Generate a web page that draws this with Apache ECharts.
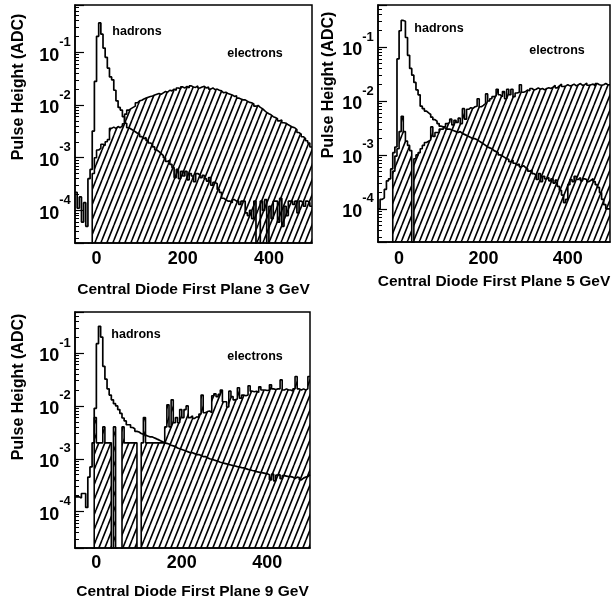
<!DOCTYPE html>
<html>
<head>
<meta charset="utf-8">
<script src="https://cdn.jsdelivr.net/npm/echarts@6/dist/echarts.min.js"></script>
<style>
  html, body { margin: 0; padding: 0; background: #fff; }
  #main { width: 613px; height: 605px; }
</style>
</head>
<body>
<div id="main"></div>
<script>
// histogram binning (ADC): 5 wide, from -50 to 500
var binStart = -50, binWidth = 5;
var xTicks = [0, 200, 400];
var yDecades = [-4, -3, -2, -1];
var titles = ['Central Diode First Plane 3 GeV', 'Central Diode First Plane 5 GeV', 'Central Diode First Plane 9 GeV'];

// 3 GeV
var had3 = [
  2.2e-4, 1.1e-4, 1.8e-4, 6e-5, 1.4e-4, 5e-5, 4e-4, 6e-4, 3.2e-3, 0.028,
  0.2, 0.36, 0.22, 0.12, 0.08, 0.05, 0.034, 0.03, 0.019, 0.012,
  9e-3, 8e-3, 6e-3, 4.5e-3, 3.7e-3, 3.5e-3, 3.3e-3, 3.1e-3, 2.9e-3, 2.8e-3,
  2.5e-3, 2.3e-3, 2.4e-3, 2.1e-3, 1.9e-3, 1.8e-3, 1.6e-3, 1.4e-3, 1.3e-3, 1.2e-3,
  1.1e-3, 1e-3, 8.5e-4, 9e-4, 7.5e-4, 6.5e-4, 4.2e-4, 6e-4, 4e-4, 5.5e-4,
  4.5e-4, 5.5e-4, 3.8e-4, 5e-4, 4.5e-4, 3.5e-4, 5e-4, 4.7e-4, 4.2e-4, 4.6e-4,
  4e-4, 3.6e-4, 4.2e-4, 3e-4, 3.4e-4, 3.2e-4, 2.5e-4, 2.2e-4, 1.7e-4, 1.6e-4,
  1.5e-4, 1.5e-4, 1.4e-4, 1.6e-4, 1.5e-4, 1.5e-4, 1.3e-4, 1.5e-4, 1.5e-4, 9e-5,
  8e-5, 1e-4, 7e-5, 1.5e-4, 0, 0, 1.5e-4, 1e-4, 1.6e-4, 0,
  1.2e-4, 7e-5, 1.5e-4, 1.5e-4, 6e-5, 1.7e-4, 5e-5, 1.2e-4, 8e-5, 1.5e-4,
  1.5e-4, 1.3e-4, 1.5e-4, 9e-5, 1.5e-4, 1.4e-4, 1.2e-4, 1.5e-4, 1.4e-4, 1.2e-4
];
var ele3 = [
  0, 0, 0, 0, 0, 0, 0, 0, 5e-4, 1e-3,
  1.4e-3, 1.5e-3, 1.8e-3, 1.7e-3, 2e-3, 2.2e-3, 3.6e-3, 3.8e-3, 3.6e-3, 3.9e-3,
  3.7e-3, 4e-3, 4.4e-3, 6.7e-3, 8e-3, 8.5e-3, 9e-3, 9.5e-3, 0.011, 0.012,
  0.0123, 0.013, 0.0135, 0.014, 0.0145, 0.0148, 0.0155, 0.016, 0.0165, 0.016,
  0.017, 0.018, 0.0175, 0.019, 0.0185, 0.02, 0.019, 0.021, 0.02, 0.022,
  0.021, 0.0225, 0.021, 0.023, 0.022, 0.0215, 0.023, 0.021, 0.022, 0.0225,
  0.021, 0.022, 0.02, 0.021, 0.0195, 0.02, 0.019, 0.0185, 0.017, 0.0175,
  0.0165, 0.016, 0.0155, 0.0145, 0.015, 0.0135, 0.013, 0.0125, 0.0125, 0.0118,
  0.0112, 0.011, 0.0105, 0.0095, 0.0098, 0.009, 0.0085, 0.0078, 0.0072, 0.0068,
  0.0065, 0.006, 0.0058, 0.0055, 0.005, 0.0052, 0.0046, 0.0045, 0.0042, 0.004,
  0.0038, 0.0037, 0.0034, 0.003, 0.0028, 0.0025, 0.0023, 0.0021, 0.0019, 0.0016
];

// 5 GeV
var had5 = [
  1e-4, 1.5e-4, 1.6e-4, 2.3e-4, 3.3e-4, 3.6e-4, 5.5e-4, 1.1e-3, 1.4e-3, 0.06,
  0.2, 0.31, 0.3, 0.15, 0.07, 0.04, 0.03, 0.022, 0.016, 0.013,
  8e-3, 7.2e-3, 6.5e-3, 6e-3, 5.6e-3, 5e-3, 4.5e-3, 4.2e-3, 3.8e-3, 3.4e-3,
  3.3e-3, 3.1e-3, 3e-3, 3e-3, 2.9e-3, 2.8e-3, 2.7e-3, 2.6e-3, 2.7e-3, 2.5e-3,
  2.4e-3, 2.3e-3, 2.2e-3, 2.1e-3, 2e-3, 2e-3, 1.9e-3, 1.8e-3, 1.7e-3, 1.6e-3,
  1.5e-3, 1.4e-3, 1.35e-3, 1.3e-3, 1.2e-3, 1.15e-3, 1.1e-3, 1e-3, 9.5e-4, 9e-4,
  8.5e-4, 8.3e-4, 7.5e-4, 8e-4, 7e-4, 6.5e-4, 6.8e-4, 6e-4, 6.3e-4, 5.8e-4,
  5.5e-4, 5e-4, 5.2e-4, 4.5e-4, 4.2e-4, 3.5e-4, 4.5e-4, 3.2e-4, 4e-4, 3.6e-4,
  3.8e-4, 3.3e-4, 3.6e-4, 3e-4, 3.4e-4, 2.6e-4, 2.2e-4, 1.8e-4, 1.3e-4, 1.5e-4,
  2.8e-4, 3.5e-4, 3.2e-4, 4e-4, 3.5e-4, 3.8e-4, 3.3e-4, 3.6e-4, 3.5e-4, 3.2e-4,
  3.4e-4, 3.6e-4, 3.2e-4, 2.8e-4, 2.5e-4, 2e-4, 1.5e-4, 1.2e-4, 1e-4, 1e-4
];
var ele5 = [
  0, 0, 0, 0, 0, 0, 0, 5e-4, 9.5e-4, 1.3e-3,
  2.7e-3, 5.2e-3, 2.7e-3, 1.8e-3, 1.5e-3, 1.2e-3, 0, 8.5e-4, 1e-3, 1.1e-3,
  1.3e-3, 1.5e-3, 1.7e-3, 1.8e-3, 1.9e-3, 3.3e-3, 2.2e-3, 2.6e-3, 2.6e-3, 3e-3,
  3e-3, 3.3e-3, 3.8e-3, 4e-3, 4.6e-3, 3.6e-3, 4.4e-3, 4e-3, 4.8e-3, 3.8e-3,
  7.2e-3, 4.6e-3, 7e-3, 7.5e-3, 7.3e-3, 7.8e-3, 8e-3, 0.011, 7.8e-3, 8.3e-3,
  0.009, 0.0135, 0.01, 0.011, 0.012, 0.0125, 0.0165, 0.013, 0.012, 0.015,
  0.011, 0.0165, 0.013, 0.0165, 0.012, 0.014, 0.0145, 0.02, 0.0145, 0.015,
  0.016, 0.0155, 0.017, 0.016, 0.0165, 0.0175, 0.0165, 0.017, 0.016, 0.017,
  0.0175, 0.017, 0.018, 0.0195, 0.0175, 0.019, 0.0205, 0.0185, 0.019, 0.02,
  0.019, 0.0195, 0.0205, 0.019, 0.02, 0.021, 0.0195, 0.02, 0.0215, 0.0195,
  0.02, 0.0205, 0.019, 0.021, 0.02, 0.0195, 0.02, 0.021, 0.02, 0.02
];

// 9 GeV
var had9 = [
  1.9e-4, 1.9e-4, 1.8e-4, 2.2e-4, 2.2e-4, 1.2e-4, 4.5e-4, 7e-4, 2e-3, 9e-3,
  0.15, 0.32, 0.2, 0.056, 0.032, 0.021, 0.016, 0.013, 0.011, 0.01,
  8.5e-3, 7.2e-3, 5.9e-3, 5.2e-3, 4.4e-3, 4.4e-3, 3.9e-3, 3.7e-3, 3.3e-3, 3.2e-3,
  3e-3, 2.9e-3, 2.8e-3, 2.7e-3, 2.6e-3, 2.6e-3, 2.5e-3, 2.4e-3, 2.3e-3, 2.2e-3,
  2.1e-3, 2e-3, 1.95e-3, 1.9e-3, 1.8e-3, 1.75e-3, 1.7e-3, 1.6e-3, 1.55e-3, 1.5e-3,
  1.45e-3, 1.4e-3, 1.35e-3, 1.3e-3, 1.3e-3, 1.25e-3, 1.2e-3, 1.2e-3, 1.15e-3, 1.1e-3,
  1.1e-3, 1.05e-3, 1e-3, 9.8e-4, 9.5e-4, 9.2e-4, 9e-4, 8.6e-4, 8.4e-4, 8.2e-4,
  8e-4, 7.8e-4, 7.6e-4, 7.4e-4, 7.3e-4, 7.1e-4, 7e-4, 6.8e-4, 6.7e-4, 6.5e-4,
  6.3e-4, 6.2e-4, 6e-4, 5.9e-4, 5.7e-4, 5.6e-4, 5.5e-4, 5.4e-4, 5.3e-4, 5.2e-4,
  5e-4, 4e-4, 5.1e-4, 3.8e-4, 4.9e-4, 5e-4, 4.2e-4, 4.8e-4, 4.7e-4, 4.6e-4,
  4.6e-4, 4.5e-4, 4.2e-4, 4.5e-4, 4.4e-4, 4e-4, 4.3e-4, 4.5e-4, 4.6e-4, 5e-4
];
var ele9 = [
  0, 0, 0, 0, 0, 0, 0, 0, 0, 6e-3,
  2e-3, 2e-3, 2e-3, 4e-3, 2e-3, 2e-3, 2e-3, 0, 4e-3, 0,
  0, 0, 4e-3, 2e-3, 2e-3, 2e-3, 2e-3, 2e-3, 2e-3, 0,
  0, 2e-3, 6e-3, 2e-3, 2e-3, 2e-3, 2e-3, 2e-3, 2e-3, 2e-3,
  2e-3, 2e-3, 4e-3, 0.0105, 4e-3, 0.013, 4.8e-3, 6e-3, 4.8e-3, 8.5e-3,
  6e-3, 8.5e-3, 0.01, 6e-3, 6.5e-3, 5.8e-3, 6.2e-3, 6e-3, 7e-3, 0.016,
  7.4e-3, 7.8e-3, 8e-3, 7.5e-3, 0.0155, 0.017, 0.015, 0.0165, 0.02, 0.012,
  0.012, 0.0095, 0.019, 0.015, 0.013, 0.0135, 0.022, 0.014, 0.016, 0.0155,
  0.016, 0.024, 0.019, 0.0185, 0.019, 0.018, 0.023, 0.02, 0.02, 0.0195,
  0.02, 0.025, 0.021, 0.0205, 0.021, 0.021, 0.031, 0.02, 0.021, 0.02,
  0.02, 0.019, 0.021, 0.036, 0.021, 0.02, 0.021, 0.02, 0.021, 0.036
];

var FONT = '"Liberation Sans", Arial, sans-serif';
var FLOOR = 1e-7; // empty bins drop below the axis

var panels = [
  { had: had3, ele: ele3, title: titles[0], left: 75, top: 5, width: 237, height: 238, yMin: 2.41e-5, yMax: 0.787,
    labMargin: 7, nameGap: 39, yTitle: [19, 87], hadTxt: [137, 32], eleTxt: [255, 53.5] },
  { had: had5, ele: ele5, title: titles[1], left: 378, top: 5, width: 240, height: 237, yMin: 2.43e-5, yMax: 0.6,
    labMargin: 8, nameGap: 32, yTitle: [329, 85], hadTxt: [439, 29], eleTxt: [557, 51] },
  { had: had9, ele: ele9, title: titles[2], left: 75, top: 312, width: 235, height: 236, yMin: 2.05e-5, yMax: 0.597,
    labMargin: 6, nameGap: 36, yTitle: [19, 387], hadTxt: [136, 335], eleTxt: [255, 357] }
];

function hatchPattern() {
  var c = document.createElement('canvas');
  c.width = 6; c.height = 15;
  var g = c.getContext('2d');
  g.strokeStyle = '#000';
  g.lineWidth = 1.6;
  g.beginPath();
  [-6, 0, 6].forEach(function (dx) { g.moveTo(dx, 15); g.lineTo(dx + 6, 0); });
  g.stroke();
  return c;
}
var hatch = hatchPattern();

function steps(vals) {
  var pts = [];
  for (var i = 0; i < vals.length; i++) {
    pts.push([binStart + i * binWidth, vals[i] > 0 ? vals[i] : FLOOR]);
  }
  pts.push([binStart + vals.length * binWidth, pts[pts.length - 1][1]]);
  return pts;
}

function logLabel(v) {
  var e = Math.log10(v), r = Math.round(e);
  if (Math.abs(e - r) > 1e-6 || yDecades.indexOf(r) < 0) return '';
  return '{b|10}{s|' + r + '}{h| }';
}

var grids = [], xAxes = [], yAxes = [], series = [], graphic = [];
panels.forEach(function (p, k) {
  grids.push({ left: p.left, top: p.top, width: p.width, height: p.height,
    show: true, borderColor: '#000', borderWidth: 1.5, backgroundColor: 'transparent' });
  xAxes.push({
    gridIndex: k, type: 'value', min: -50, max: 500, interval: 50,
    axisLine: { show: true, onZero: false, lineStyle: { color: '#000', width: 1.5 } },
    axisTick: { show: false }, splitLine: { show: false },
    axisLabel: {
      formatter: function (v) { return xTicks.indexOf(v) >= 0 ? String(v) : ''; },
      margin: p.labMargin, color: '#000', fontSize: 18, fontWeight: 'bold', fontFamily: FONT
    },
    name: p.title, nameLocation: 'middle', nameGap: p.nameGap,
    nameTextStyle: { color: '#000', fontSize: 15.5, fontWeight: 'bold', fontFamily: FONT }
  });
  yAxes.push({
    gridIndex: k, type: 'log', logBase: 10, min: p.yMin, max: p.yMax,
    axisLine: { show: true, onZero: false, lineStyle: { color: '#000', width: 1.5 } },
    axisTick: { show: true, inside: true, length: 9, lineStyle: { color: '#000', width: 1.2 } },
    minorTick: { show: true, splitNumber: 9, length: 4, lineStyle: { color: '#000', width: 1 } },
    splitLine: { show: false },
    axisLabel: {
      formatter: logLabel, margin: 4, padding: [0, 0, 4, 0],
      rich: {
        b: { fontSize: 18, fontWeight: 'bold', fontFamily: FONT, color: '#000', verticalAlign: 'bottom' },
        s: { fontSize: 13, fontWeight: 'bold', fontFamily: FONT, color: '#000', verticalAlign: 'top' },
        h: { fontSize: 1, lineHeight: 29, fontFamily: FONT }
      }
    }
  });
  series.push({
    type: 'line', xAxisIndex: k, yAxisIndex: k, data: steps(p.ele), step: 'end',
    symbol: 'none', clip: true, silent: true, z: 2,
    lineStyle: { color: '#000', width: 1.6 },
    areaStyle: { color: { image: hatch, repeat: 'repeat' }, origin: 'start', opacity: 1 }
  });
  series.push({
    type: 'line', xAxisIndex: k, yAxisIndex: k, data: steps(p.had), step: 'end',
    symbol: 'none', clip: true, silent: true, z: 3,
    lineStyle: { color: '#000', width: 1.7 }
  });
  graphic.push({ type: 'text', x: p.yTitle[0], y: p.yTitle[1], rotation: Math.PI / 2,
    style: { text: 'Pulse Height (ADC)', font: 'bold 16px ' + FONT, fill: '#000', align: 'center', verticalAlign: 'middle' } });
  graphic.push({ type: 'text', x: p.hadTxt[0], y: p.hadTxt[1],
    style: { text: 'hadrons', font: 'bold 12.5px ' + FONT, fill: '#000', align: 'center', verticalAlign: 'middle' } });
  graphic.push({ type: 'text', x: p.eleTxt[0], y: p.eleTxt[1],
    style: { text: 'electrons', font: 'bold 12.5px ' + FONT, fill: '#000', align: 'center', verticalAlign: 'middle' } });
});

var chart = echarts.init(document.getElementById('main'), null, { renderer: 'canvas' });
chart.setOption({
  animation: false,
  backgroundColor: '#fff',
  grid: grids,
  xAxis: xAxes,
  yAxis: yAxes,
  series: series,
  graphic: graphic
});
</script>
</body>
</html>
